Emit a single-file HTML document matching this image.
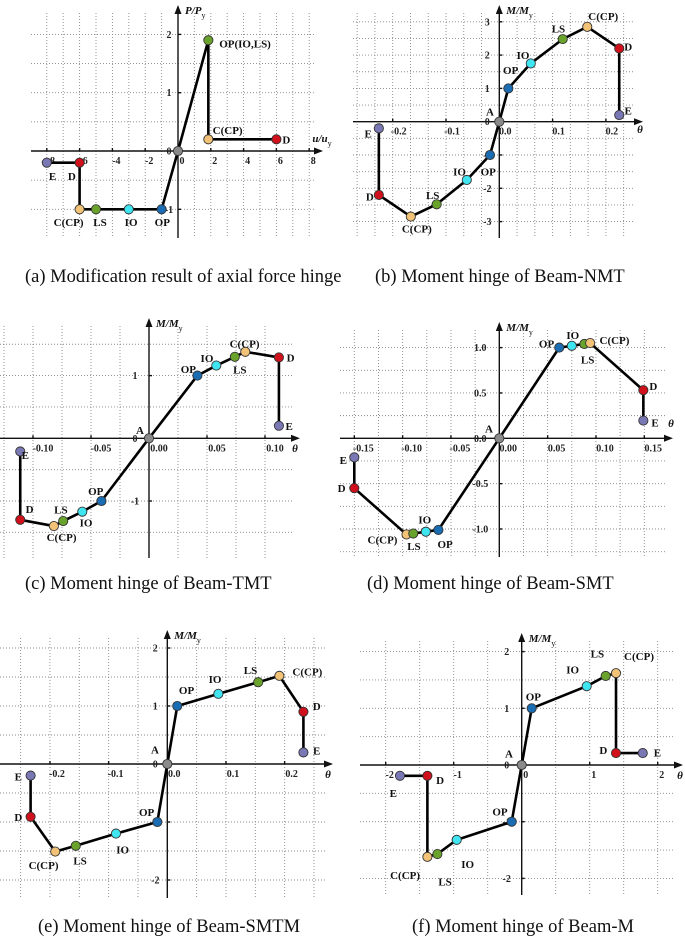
<!DOCTYPE html>
<html><head><meta charset="utf-8">
<style>
html,body{margin:0;padding:0;background:#fff;}
svg{display:block;font-family:"Liberation Serif",serif;}
.cap{font-size:18.5px;fill:#111;}
.tk{font-size:10px;font-weight:bold;fill:#222;}
.pl{font-size:11px;font-weight:bold;fill:#111;}
.ttl{font-size:11px;font-weight:bold;font-style:italic;fill:#111;}
</style></head>
<body>
<svg id="fig" width="685" height="937" viewBox="0 0 685 937"></svg>
<script>
// ---- data ----
const aX=[-8,-6,-6,-5,-3,-1,0,1.85,1.85,6];
const aY=[-0.2,-0.2,-1,-1,-1,-1,0,1.9,0.2,0.2];
const aT=['E','D','C','LS','IO','OP','A','LS','C','D'];
const aL=['E','D','C(CP)','LS','IO','OP','','OP(IO,LS)','C(CP)','D'];
const symT=['E','D','C','LS','IO','OP','A','OP','IO','LS','C','D','E'];
const symL=['E','D','C(CP)','LS','IO','OP','A','OP','IO','LS','C(CP)','D','E'];
const bX=[-0.226,-0.226,-0.166,-0.1175,-0.061,-0.0175,0,0.017,0.059,0.119,0.165,0.225,0.225];
const bY=[-0.2,-2.2,-2.85,-2.48,-1.75,-1,0,1,1.75,2.48,2.85,2.2,0.2];
const cX=[-0.111,-0.111,-0.082,-0.074,-0.0575,-0.041,0,0.0417,0.058,0.074,0.083,0.112,0.112];
const cY=[-0.21,-1.3,-1.4,-1.32,-1.17,-1,0,1,1.16,1.3,1.38,1.29,0.2];
const dX=[-0.15,-0.15,-0.096,-0.089,-0.076,-0.063,0,0.062,0.075,0.088,0.094,0.149,0.149];
const dY=[-0.21,-0.55,-1.06,-1.05,-1.03,-1.01,0,1,1.02,1.04,1.05,0.53,0.195];
const eX=[-0.233,-0.233,-0.191,-0.156,-0.0875,-0.017,0,0.017,0.087,0.155,0.191,0.232,0.232];
const eY=[-0.2,-0.91,-1.51,-1.41,-1.2,-1,0,1,1.21,1.41,1.52,0.9,0.2];
const fX=[-1.79,-1.387,-1.387,-1.24,-0.956,-0.147,0,0.147,0.956,1.235,1.387,1.387,1.78];
const fY=[-0.19,-0.19,-1.62,-1.57,-1.32,-1,0,1,1.39,1.57,1.62,0.21,0.21];
const aXT=[-8,-6,-4,-2,0,2,4,6,8], aXL=['-8','-6','-4','-2','0','2','4','6','8'];
const aYT=[2,1,0,-1], aYL=['2','1','0','-1'];
const bXT=[-0.2,-0.1,0,0.1,0.2], bXL=['-0.2','-0.1','0.0','0.1','0.2'];
const bYT=[3,2,1,0,-1,-2,-3], bYL=['3','2','1','0','-1','-2','-3'];
const cXT=[-0.1,-0.05,0,0.05,0.1], cXL=['-0.10','-0.05','0.00','0.05','0.10'];
const cYT=[1,0,-1], cYL=['1','0','-1'];
const dXT=[-0.15,-0.1,-0.05,0,0.05,0.1,0.15], dXL=['-0.15','-0.10','-0.05','0.00','0.05','0.10','0.15'];
const dYT=[1,0.5,0,-0.5,-1], dYL=['1.0','0.5','0.0','-0.5','-1.0'];
const eXT=[-0.2,-0.1,0,0.1,0.2], eXL=['-0.2','-0.1','0.0','0.1','0.2'];
const eYT=[2,1,0,-1,-2], eYL=['2','1','0','-1','-2'];
const fXT=[-2,-1,0,1,2], fXL=['-2','-1','0','1','2'];
const fYT=[2,1,0,-1,-2], fYL=['2','1','0','-1','-2'];

const colors={E:'#7a78b4',D:'#d0101a',C:'#f2c277',LS:'#6aa32c',IO:'#3fe6f2',OP:'#1a6db3',A:'#8a8a8a'};
const NS='http://www.w3.org/2000/svg';
const svg=document.getElementById('fig');
function mk(tag,attrs,parent){const e=document.createElementNS(NS,tag);for(const k in attrs)e.setAttribute(k,attrs[k]);(parent||svg).appendChild(e);return e;}

const panels=[
 {id:'a',xs:aX,ys:aY,ts:aT,ls:aL,ox:178,oy:151,sx:16.4,sy:58.3,x0:31,x1:323,y0:5,y1:238,gx:1,gy:0.5,
  off:[[5.7,13.3],[-7.7,13.3],[-11,12.7],[4,12.7],[2.3,12.7],[0.7,12.7],[0,0],[36.7,3.3],[19.3,-9.3],[10,0]],
  xt:aXT,xl:aXL,yt:aYT,yl:aYL,xlo:4,ylo:-9,yt1:'P/P',xt1:'u/u',xtx:322,xty:142,
  cap:'(a) Modification result of axial force hinge',capx:25,capy:282},
 {id:'b',xs:bX,ys:bY,ts:symT,ls:symL,ox:499.3,oy:121.7,sx:533,sy:33.3,x0:353,x1:643,y0:5,y1:238,gx:0.1/3,gy:0.5,
  off:[[-10.7,5],[-9,1.7],[6,11.7],[-4,-9.3],[-7.3,-8.3],[-1.7,16.7],[-9.3,-10],[2.3,-18.3],[-7.7,-8.3],[-4.3,-10.7],[16,-10.7],[9,-1.7],[9,-4.3]],
  xt:bXT,xl:bXL,yt:bYT,yl:bYL,xlo:6,ylo:-12,yt1:'M/M',xt1:'θ',xtx:640,xty:133,
  cap:'(b) Moment hinge of Beam-NMT',capx:375,capy:282},
 {id:'c',xs:cX,ys:cY,ts:symT,ls:symL,ox:149,oy:438.3,sx:1160,sy:62.7,x0:0,x1:300,y0:318,y1:558,gx:0.025,gy:0.5,
  off:[[5,3.3],[9.3,-10.7],[7.7,10.7],[-2.3,-11.7],[3.7,11],[-5.7,-10],[-9,-8.3],[-9,-6.7],[-9.3,-7.7],[5,12.7],[-0.7,-8.3],[11.7,0],[10.3,0]],
  xt:cXT,xl:cXL,yt:cYT,yl:cYL,xlo:10,ylo:-14,yt1:'M/M',xt1:'θ',xtx:295,xty:452,
  cap:'(c) Moment hinge of Beam-TMT',capx:25,capy:589},
 {id:'d',xs:dX,ys:dY,ts:symT,ls:symL,ox:499.3,oy:438.3,sx:966.7,sy:90.7,x0:340,x1:673,y0:322,y1:557,gx:0.025,gy:0.25,
  off:[[-11,2.7],[-12.7,0],[-24,5],[0.7,12.7],[-1,-12.3],[6.7,14],[-10.3,-10],[-12.7,-4.3],[1,-11],[3.3,15.3],[24.3,-3.3],[10,-4],[11.7,2]],
  xt:dXT,xl:dXL,yt:dYT,yl:dYL,xlo:9,ylo:-19,yt1:'M/M',xt1:'θ',xtx:671,xty:427,
  cap:'(d) Moment hinge of Beam-SMT',capx:367,capy:589},
 {id:'e',xs:eX,ys:eY,ts:symT,ls:symL,ox:167.3,oy:764,sx:586.7,sy:58,x0:0,x1:333,y0:630,y1:898,gx:0.05,gy:0.5,
  off:[[-12.3,1],[-12.3,0],[-11.7,13.3],[4.3,14.7],[6.7,15.7],[-10.7,-10],[-12.3,-14.7],[9.3,-16],[-3.3,-14.7],[-7.7,-12],[28,-4.3],[13.3,-5.7],[13.3,-1.7]],
  xt:eXT,xl:eXL,yt:eYT,yl:eYL,xlo:7,ylo:-12,yt1:'M/M',xt1:'θ',xtx:328,xty:778,
  cap:'(e) Moment hinge of Beam-SMTM',capx:38,capy:932},
 {id:'f',xs:fX,ys:fY,ts:symT,ls:symL,ox:521.7,oy:765,sx:68,sy:56.7,x0:360,x1:683,y0:633,y1:895,gx:0.5,gy:0.5,
  off:[[-6.7,17.3],[12.7,4],[-22.3,18.3],[7.7,27.7],[11,24.3],[-11.7,-10],[-12.7,-11.7],[1.7,-11.7],[-14,-16.7],[-8.3,-22.7],[23,-17.3],[-12.7,-3.3],[14.7,-0.7]],
  xt:fXT,xl:fXL,yt:fYT,yl:fYL,xlo:4,ylo:-15,yt1:'M/M',xt1:'θ',xtx:680,xty:779,
  cap:'(f) Moment hinge of Beam-M',capx:412,capy:932}
];

panels.forEach(p=>{
  const g=mk('g',{});
  
  
  const X=v=>p.ox+v*p.sx, Y=v=>p.oy-v*p.sy;
  const gg=mk('g',{stroke:'#888','stroke-width':0.9,'stroke-dasharray':'1,2'},g);
  
  
  const stx=p.gx*p.sx, sty=p.gy*p.sy;
  for(let k=Math.ceil((p.x0-p.ox)/stx);k<=Math.floor((p.x1-8-p.ox)/stx);k++){
    if(k===0)continue;const x=X(k*p.gx);mk('line',{x1:x,x2:x,y1:p.y0+8,y2:p.y1},gg);}
  for(let k=Math.ceil((p.oy-p.y1)/sty);k<=Math.floor((p.oy-p.y0-8)/sty);k++){
    if(k===0)continue;const y=Y(k*p.gy);mk('line',{x1:p.x0,x2:p.x1-8,y1:y,y2:y},gg);}
  const ax=mk('g',{stroke:'#111','stroke-width':1.4},g);
  
  
  mk('line',{x1:p.x0,x2:p.x1-2,y1:p.oy,y2:p.oy},ax);
  mk('line',{x1:p.ox,x2:p.ox,y1:p.y0+2,y2:p.y1},ax);
  mk('path',{d:`M${p.x1},${p.oy} l-9,-3.5 v7 z`,fill:'#111',stroke:'none'},g);
  mk('path',{d:`M${p.ox},${p.y0} l-3.5,9 h7 z`,fill:'#111',stroke:'none'},g);
  p.xt.forEach((v,i)=>{const x=X(v);mk('line',{x1:x,x2:x,y1:p.oy-3,y2:p.oy},ax);
    const t=mk('text',{x:x+p.xlo,y:p.oy+13,'text-anchor':'middle',class:'tk'},g);t.textContent=p.xl[i];
    
    });
  p.yt.forEach((v,i)=>{const y=Y(v);mk('line',{x1:p.ox,x2:p.ox+3,y1:y,y2:y},ax);
    const t=mk('text',{x:p.ox+p.ylo,y:y+3.5,'text-anchor':'middle',class:'tk'},g);t.textContent=p.yl[i];
    
    });
  const yt=mk('text',{x:p.ox+7,y:p.y0+9,class:'ttl'},g);
  
  
  yt.appendChild(document.createTextNode(p.yt1));
  const s1=mk('tspan',{dy:4,'font-size':8,'font-style':'normal','font-weight':'normal'},yt);s1.textContent='y';
  const xt=mk('text',{x:p.xtx,y:p.xty,'text-anchor':'middle',class:'ttl'},g);
  
  
  xt.appendChild(document.createTextNode(p.xt1));
  if(p.xt1!=='θ'){const s2=mk('tspan',{dy:4,'font-size':8,'font-style':'normal','font-weight':'normal'},xt);s2.textContent='y';}
  const pts=p.xs.map((v,i)=>X(v)+','+Y(p.ys[i])).join(' ');
  const pl=mk('polyline',{points:pts,fill:'none',stroke:'#000','stroke-width':2.6,'stroke-linejoin':'round'},g);
  
  
  p.xs.forEach((v,i)=>{
    const c=mk('circle',{cx:X(v),cy:Y(p.ys[i]),r:4.6,fill:colors[p.ts[i]],stroke:'#333','stroke-width':0.9},g);
    
    
    if(p.ls[i]){const o=p.off[i];
      const t=mk('text',{x:X(v)+o[0],y:Y(p.ys[i])+o[1]+4,'text-anchor':'middle',class:'pl'},g);t.textContent=p.ls[i];
      
      }
  });
  const cp=mk('text',{x:p.capx,y:p.capy,class:'cap'},g);cp.textContent=p.cap;
  
  
});
</script>
</body></html>
